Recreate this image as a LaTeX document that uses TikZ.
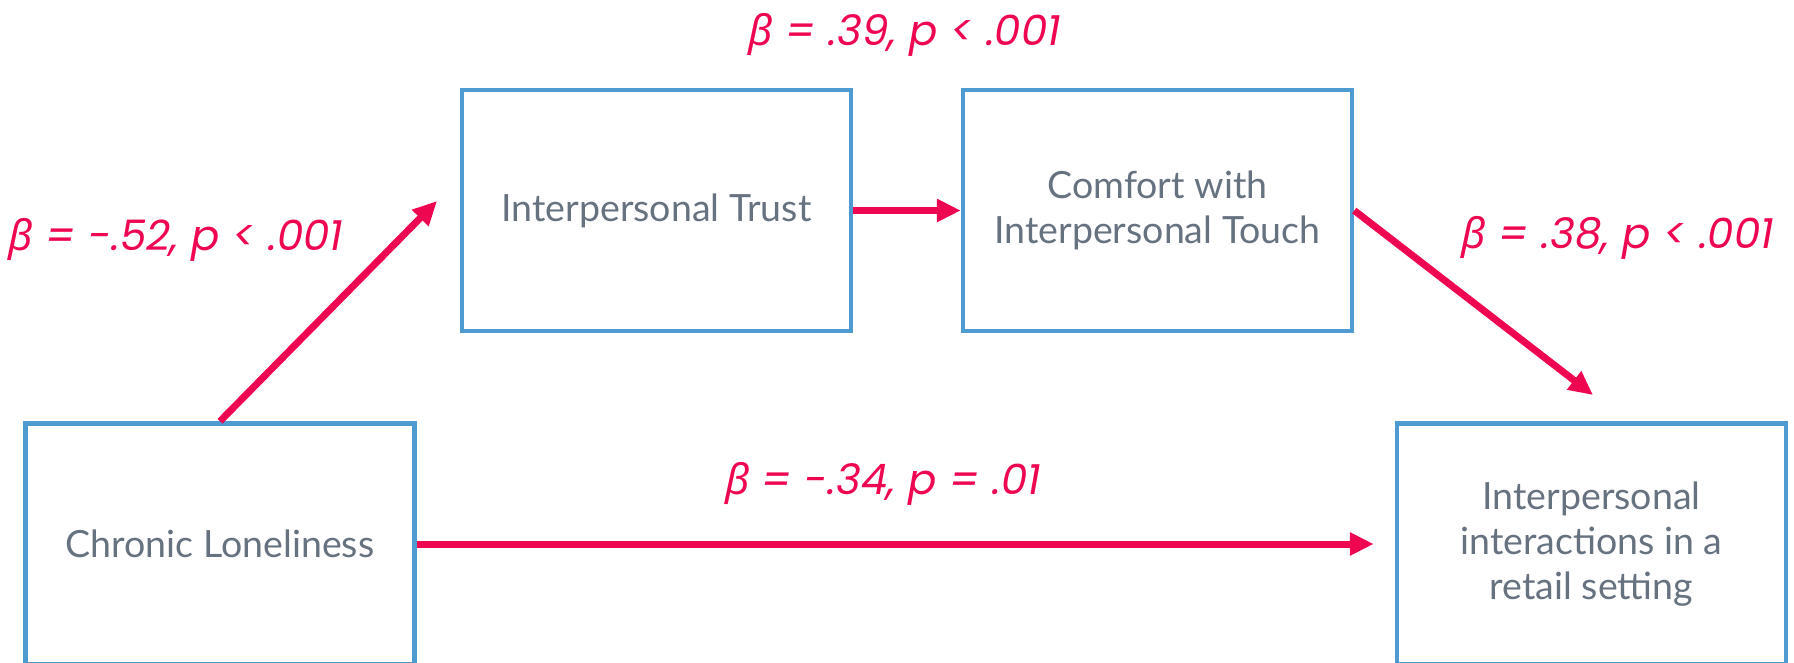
\documentclass[tikz,border=0pt]{standalone}
\usepackage{fontspec}
\setmainfont{Lato}
\newfontfamily\popfont{Poppins}
\newfontfamily\grkfont{Noto Sans}
\usetikzlibrary{arrows.meta}
\definecolor{boxblue}{HTML}{4E9BD1}
\definecolor{arrred}{HTML}{EE0651}
\definecolor{txtgray}{HTML}{66727F}
\newcommand{\bet}{{\grkfont\itshape β}}
\begin{document}
\begin{tikzpicture}[x=1pt,y=-1pt,
  varbox/.style={draw=boxblue, line width=4.5pt, minimum width=389pt, minimum height=241pt,
    inner sep=0pt, align=center, text=txtgray, font=\fontsize{37.5}{45}\selectfont},
  effarrow/.style={draw=arrred, line width=7pt, -{Triangle[length=24pt,width=22pt]}},
  coef/.style={text=arrred, anchor=base, inner sep=0pt, font=\popfont\itshape\fontsize{42}{44}\selectfont}]
\useasboundingbox (0,0) rectangle (1794,663);
\node[varbox] (chronic) at (220,544) {Chronic Loneliness};
\node[varbox] (trust) at (656.5,210.5) {Interpersonal Trust};
\node[varbox] (comfort) at (1157.5,210.5) {Comfort with\\Interpersonal Touch};
\node[varbox] (outcome) at (1591.5,544) {Interpersonal\\interactions in a\\retail setting};
\coordinate (tipA) at (437,201);
\coordinate (tipB) at (1593,395);
\draw[effarrow] (chronic.north) -- (tipA);
\draw[effarrow] (trust.east) -- (comfort.west);
\draw[effarrow] (comfort.east) -- (tipB);
\draw[effarrow, shorten >=21pt] (chronic.east) -- (outcome.west);
\node[coef] (c1) at (176,251) {\bet{} = -.52, p < .001};
\node[coef] (c2) at (905,46) {\bet{} = .39, p < .001};
\node[coef] (c3) at (1618,248) {\bet{} = .38, p < .001};
\node[coef] (c4) at (883,494) {\bet{} = -.34, p = .01};
\end{tikzpicture}
\end{document}
